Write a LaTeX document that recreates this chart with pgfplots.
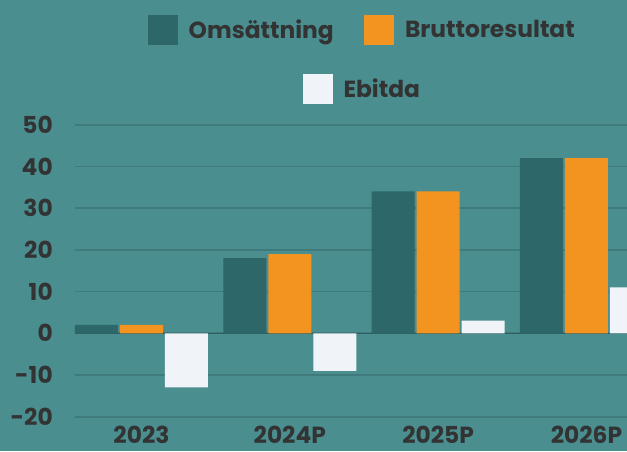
\documentclass[border=0pt]{standalone}
\usepackage{pgfplots}
\pgfplotsset{compat=1.18}
\usepackage{fontspec}
\setmainfont{Poppins}
\definecolor{bgc}{HTML}{4A8E8F}
\definecolor{gridc}{HTML}{3F7B7C}
\definecolor{zeroc}{HTML}{2F5F61}
\definecolor{tealbar}{HTML}{2E676A}
\definecolor{orangebar}{HTML}{F39320}
\definecolor{whitebar}{HTML}{F0F4F9}
\definecolor{txt}{HTML}{333333}
\begin{document}
\begin{tikzpicture}
\useasboundingbox[fill=bgc] (0pt,0pt) rectangle (470.25pt,338.25pt);
\clip (0pt,0pt) rectangle (470.25pt,338.25pt);
\pgfplotsset{
  sqlegend/.style={legend image code/.code={\fill[##1] (0pt,-11.25pt) rectangle (22.5pt,11.25pt);}},
  common/.style={
    at={(56.25pt,25.75pt)}, anchor=south west,
    x=111.25pt, y=3.128pt,
    xmin=-0.448, xmax=3.6, ymin=-20, ymax=50,
    clip=false,
    font=\fontsize{17.5}{20}\selectfont\bfseries\color{txt},
    legend style={draw=none, fill=none, text=txt, anchor=center,
      /tikz/every even column/.append style={column sep=15pt},
      nodes={inner xsep=8pt, inner ysep=0pt}},
    legend columns=-1,
  },
}
\begin{axis}[common,
  axis line style={draw=none},
  major tick length=0pt,
  ybar=1.5pt, bar width=32.25pt,
  xtick={0,1,2,3}, xticklabels={2023,2024P,2025P,2026P},
  xticklabel style={anchor=north, inner sep=0pt, yshift=-6.5pt},
  ytick={-20,-10,0,10,20,30,40,50},
  yticklabels={-20,-10,0,10,20,30,40,50},
  yticklabel style={anchor=east, inner sep=0pt, xshift=-16.5pt},
  ymajorgrids, grid style={color=gridc, line width=1.3pt},
  extra y ticks={0}, extra y tick labels={},
  extra y tick style={grid style={color=zeroc, line width=0.8pt}},
  legend style={at={(0.4859,1.3242)}},
]
\addplot[fill=tealbar, draw=none, sqlegend] coordinates {(0,2) (1,18) (2,34) (3,42)};
\addplot[fill=orangebar, draw=none, sqlegend] coordinates {(0,2) (1,19) (2,34) (3,42)};
\addplot[fill=whitebar, draw=none, sqlegend] coordinates {(0,-13) (1,-9) (2,3) (3,11)};
\legend{Omsättning,Bruttoresultat}
\end{axis}
\begin{axis}[common, hide axis, sqlegend,
  legend style={at={(0.4859,1.1222)}},
]
\addlegendimage{fill=whitebar, draw=none}
\addlegendentry{Ebitda}
\end{axis}
\end{tikzpicture}
\end{document}
